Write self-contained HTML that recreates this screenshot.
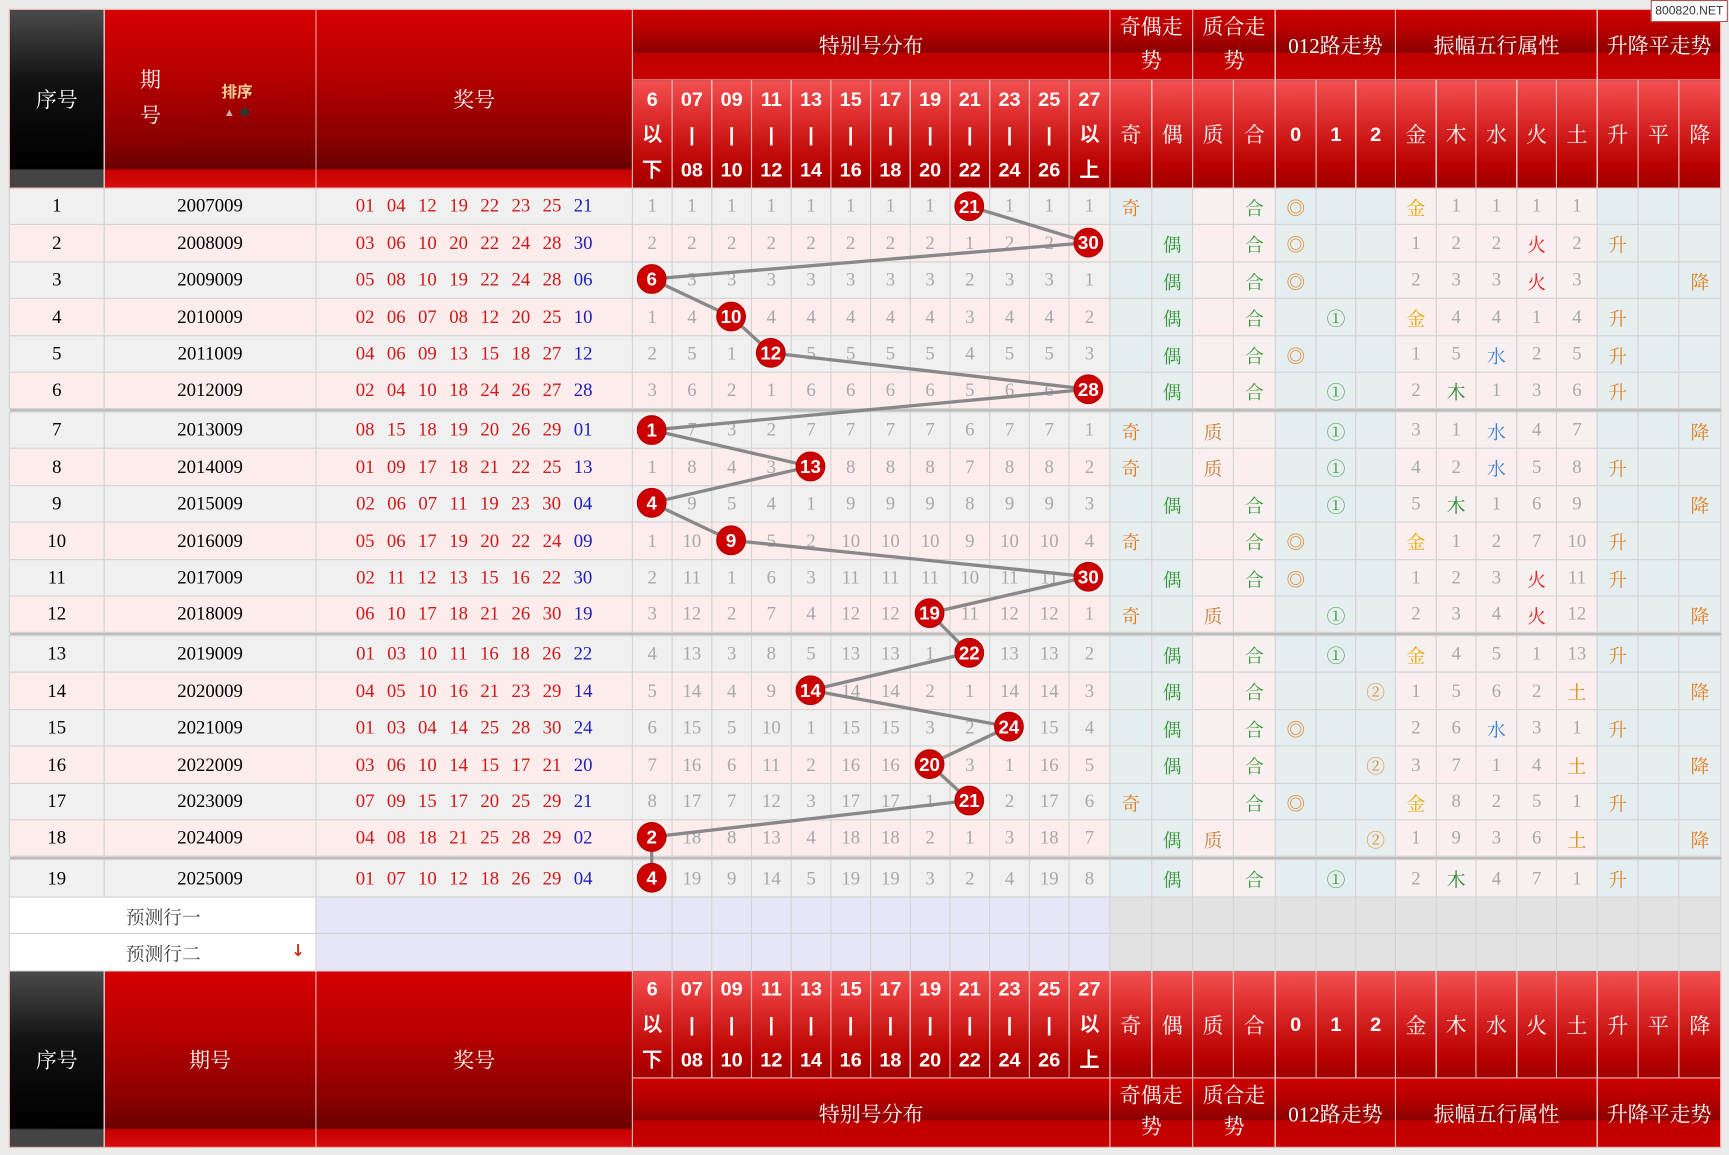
<!DOCTYPE html>
<html><head><meta charset="utf-8">
<style>
html,body{margin:0;padding:0;background:#ebebeb;overflow:hidden;width:1729px;height:1155px}
#c{position:absolute;left:0;top:0;width:1568px;height:1047px;transform:scale(1.10268);transform-origin:0 0}
table{position:absolute;left:8px;top:8px;width:1552px;border-collapse:collapse;table-layout:fixed;font-family:"Liberation Serif","Noto Serif CJK SC",serif;font-size:17px}
td{border:1px solid #d2d2d2;text-align:center;padding:0;overflow:hidden;white-space:nowrap}
.hd td{color:#fff;border-color:#e8b0b0;font-family:"Liberation Serif","Noto Serif CJK SC",serif;font-size:19px}
.rg{background:linear-gradient(#d60000 0%,#b80000 35%,#860000 75%,#6a0000 89%,#c80000 90%,#d80c0c 100%)}
.bk{background:linear-gradient(#4a4a4a 0%,#111 40%,#000 89%,#444 90%,#444 100%)}
.gt{background:linear-gradient(#cc0000 0%,#b50000 30%,#8a0000 60%,#c00000 61%,#c80000 100%)}
.sb{background:linear-gradient(#f25050 0%,#dd2a2a 35%,#b80000 80%,#a00000 100%);font-family:"Liberation Sans",sans-serif!important;font-weight:bold;line-height:32px;font-size:18px!important}
.sb2{background:linear-gradient(#f25050 0%,#dd2a2a 35%,#b80000 80%,#a00000 100%)}
tr.o td{background:#f0f0f0}
tr.e td{background:#fcecec}
tr.d td:nth-child(n+4):nth-child(-n+15){color:#a8a8a8}
tr.o td:nth-child(16),tr.o td:nth-child(17),tr.o td:nth-child(n+20):nth-child(-n+22),tr.o td:nth-child(n+28){background:#e4eef0}
tr.e td:nth-child(16),tr.e td:nth-child(17),tr.e td:nth-child(n+20):nth-child(-n+22),tr.e td:nth-child(n+28){background:#e6eef0}
tr.o td:nth-child(n+18):nth-child(-n+19),tr.o td:nth-child(n+23):nth-child(-n+27){background:#f6f0f0}
tr.e td:nth-child(n+18):nth-child(-n+19),tr.e td:nth-child(n+23):nth-child(-n+27){background:#faeeee}
tr.d td:nth-child(n+23):nth-child(-n+27){color:#a8a8a8}
tr.d td:nth-child(n+16){font-family:"Liberation Serif","Noto Serif CJK SC",serif}
.aw{word-spacing:7px}
.a{color:#d01818}.b{color:#2020b8}
.q{color:#e07a20!important}.ou{color:#3c9a3c!important}.z{color:#c88038!important}.h{color:#3c9a3c!important}
.r0{color:#e08a30!important}.r1{color:#3c9a3c!important}.r2{color:#e08a30!important}
.j{color:#e8a800!important}.m{color:#2f8a2f!important}.s{color:#3a80d0!important}.f{color:#e02020!important}.t{color:#d08a00!important}.u{color:#e08020!important}
tr.sep td{height:2px;background:#bdbdbd;border:0}
tr.p td{background:#e6e6f6}
tr.p td.w{background:#fff;text-align:left;padding-left:105px;color:#444}
tr.p td.g{background:#e2e2e2}
#wm{position:absolute;left:1497px;top:0;width:68px;height:18px;background:#fff;border:1px solid #a55;font:11px "Liberation Sans",sans-serif;line-height:18px;text-align:center;color:#333}
svg{position:absolute;left:0;top:0}
</style></head><body><div id="c">
<table>
<colgroup><col style="width:86px"><col style="width:192px"><col style="width:287px">
<col style="width:36px"><col style="width:36px"><col style="width:36px"><col style="width:36px"><col style="width:36px"><col style="width:36px"><col style="width:36px"><col style="width:36px"><col style="width:36px"><col style="width:36px"><col style="width:36px"><col style="width:37px">
<col style="width:38px"><col style="width:37px"><col style="width:37px"><col style="width:38px"><col style="width:37px"><col style="width:36px"><col style="width:36px"><col style="width:37px"><col style="width:36px"><col style="width:37px"><col style="width:36px"><col style="width:37px"><col style="width:37px"><col style="width:37px"><col style="width:38px"></colgroup>
<tr class="hd" style="height:64px"><td rowspan="2" class="bk">序号</td><td rowspan="2" class="rg" style="position:relative;text-align:left;padding-left:32px;line-height:32px">期<br>号<span style="position:absolute;left:106px;top:58px;font-size:14px;font-weight:bold;color:#f6d0a0;font-family:'Noto Sans CJK SC',sans-serif">排序</span><span style="position:absolute;left:108px;top:78px;font-size:10px;color:#caa">▲</span><span style="position:absolute;left:122px;top:78px;font-size:10px;color:#333">◆</span></td><td rowspan="2" class="rg">奖号</td><td colspan="12" class="gt">特别号分布</td><td colspan="2" class="gt" style="line-height:30px">奇偶走<br>势</td><td colspan="2" class="gt" style="line-height:30px">质合走<br>势</td><td colspan="3" class="gt">012路走势</td><td colspan="5" class="gt">振幅五行属性</td><td colspan="3" class="gt">升降平走势</td></tr>
<tr class="hd" style="height:98px"><td class="sb">6<br>以<br>下</td><td class="sb">07<br>|<br>08</td><td class="sb">09<br>|<br>10</td><td class="sb">11<br>|<br>12</td><td class="sb">13<br>|<br>14</td><td class="sb">15<br>|<br>16</td><td class="sb">17<br>|<br>18</td><td class="sb">19<br>|<br>20</td><td class="sb">21<br>|<br>22</td><td class="sb">23<br>|<br>24</td><td class="sb">25<br>|<br>26</td><td class="sb">27<br>以<br>上</td><td class="sb2">奇</td><td class="sb2">偶</td><td class="sb2">质</td><td class="sb2">合</td><td class="sb">0</td><td class="sb">1</td><td class="sb">2</td><td class="sb2">金</td><td class="sb2">木</td><td class="sb2">水</td><td class="sb2">火</td><td class="sb2">土</td><td class="sb2">升</td><td class="sb2">平</td><td class="sb2">降</td></tr>

<tr class="d o" style="height:33px"><td>1</td><td>2007009</td><td class="aw"><span class="a">01 04 12 19 22 23 25</span> <span class="b">21</span></td><td>1</td><td>1</td><td>1</td><td>1</td><td>1</td><td>1</td><td>1</td><td>1</td><td></td><td>1</td><td>1</td><td>1</td><td class="q">奇</td><td></td><td></td><td class="h">合</td><td class="r0">◎</td><td></td><td></td><td class="j">金</td><td>1</td><td>1</td><td>1</td><td>1</td><td></td><td></td><td></td></tr>
<tr class="d e" style="height:34px"><td>2</td><td>2008009</td><td class="aw"><span class="a">03 06 10 20 22 24 28</span> <span class="b">30</span></td><td>2</td><td>2</td><td>2</td><td>2</td><td>2</td><td>2</td><td>2</td><td>2</td><td>1</td><td>2</td><td>2</td><td></td><td></td><td class="ou">偶</td><td></td><td class="h">合</td><td class="r0">◎</td><td></td><td></td><td>1</td><td>2</td><td>2</td><td class="f">火</td><td>2</td><td class="u">升</td><td></td><td></td></tr>
<tr class="d o" style="height:33px"><td>3</td><td>2009009</td><td class="aw"><span class="a">05 08 10 19 22 24 28</span> <span class="b">06</span></td><td></td><td>3</td><td>3</td><td>3</td><td>3</td><td>3</td><td>3</td><td>3</td><td>2</td><td>3</td><td>3</td><td>1</td><td></td><td class="ou">偶</td><td></td><td class="h">合</td><td class="r0">◎</td><td></td><td></td><td>2</td><td>3</td><td>3</td><td class="f">火</td><td>3</td><td></td><td></td><td class="u">降</td></tr>
<tr class="d e" style="height:34px"><td>4</td><td>2010009</td><td class="aw"><span class="a">02 06 07 08 12 20 25</span> <span class="b">10</span></td><td>1</td><td>4</td><td></td><td>4</td><td>4</td><td>4</td><td>4</td><td>4</td><td>3</td><td>4</td><td>4</td><td>2</td><td></td><td class="ou">偶</td><td></td><td class="h">合</td><td></td><td class="r1">①</td><td></td><td class="j">金</td><td>4</td><td>4</td><td>1</td><td>4</td><td class="u">升</td><td></td><td></td></tr>
<tr class="d o" style="height:33px"><td>5</td><td>2011009</td><td class="aw"><span class="a">04 06 09 13 15 18 27</span> <span class="b">12</span></td><td>2</td><td>5</td><td>1</td><td></td><td>5</td><td>5</td><td>5</td><td>5</td><td>4</td><td>5</td><td>5</td><td>3</td><td></td><td class="ou">偶</td><td></td><td class="h">合</td><td class="r0">◎</td><td></td><td></td><td>1</td><td>5</td><td class="s">水</td><td>2</td><td>5</td><td class="u">升</td><td></td><td></td></tr>
<tr class="d e" style="height:33px"><td>6</td><td>2012009</td><td class="aw"><span class="a">02 04 10 18 24 26 27</span> <span class="b">28</span></td><td>3</td><td>6</td><td>2</td><td>1</td><td>6</td><td>6</td><td>6</td><td>6</td><td>5</td><td>6</td><td>6</td><td></td><td></td><td class="ou">偶</td><td></td><td class="h">合</td><td></td><td class="r1">①</td><td></td><td>2</td><td class="m">木</td><td>1</td><td>3</td><td>6</td><td class="u">升</td><td></td><td></td></tr>
<tr class="sep"><td colspan="30"></td></tr>
<tr class="d o" style="height:33px"><td>7</td><td>2013009</td><td class="aw"><span class="a">08 15 18 19 20 26 29</span> <span class="b">01</span></td><td></td><td>7</td><td>3</td><td>2</td><td>7</td><td>7</td><td>7</td><td>7</td><td>6</td><td>7</td><td>7</td><td>1</td><td class="q">奇</td><td></td><td class="z">质</td><td></td><td></td><td class="r1">①</td><td></td><td>3</td><td>1</td><td class="s">水</td><td>4</td><td>7</td><td></td><td></td><td class="u">降</td></tr>
<tr class="d e" style="height:34px"><td>8</td><td>2014009</td><td class="aw"><span class="a">01 09 17 18 21 22 25</span> <span class="b">13</span></td><td>1</td><td>8</td><td>4</td><td>3</td><td></td><td>8</td><td>8</td><td>8</td><td>7</td><td>8</td><td>8</td><td>2</td><td class="q">奇</td><td></td><td class="z">质</td><td></td><td></td><td class="r1">①</td><td></td><td>4</td><td>2</td><td class="s">水</td><td>5</td><td>8</td><td class="u">升</td><td></td><td></td></tr>
<tr class="d o" style="height:33px"><td>9</td><td>2015009</td><td class="aw"><span class="a">02 06 07 11 19 23 30</span> <span class="b">04</span></td><td></td><td>9</td><td>5</td><td>4</td><td>1</td><td>9</td><td>9</td><td>9</td><td>8</td><td>9</td><td>9</td><td>3</td><td></td><td class="ou">偶</td><td></td><td class="h">合</td><td></td><td class="r1">①</td><td></td><td>5</td><td class="m">木</td><td>1</td><td>6</td><td>9</td><td></td><td></td><td class="u">降</td></tr>
<tr class="d e" style="height:34px"><td>10</td><td>2016009</td><td class="aw"><span class="a">05 06 17 19 20 22 24</span> <span class="b">09</span></td><td>1</td><td>10</td><td></td><td>5</td><td>2</td><td>10</td><td>10</td><td>10</td><td>9</td><td>10</td><td>10</td><td>4</td><td class="q">奇</td><td></td><td></td><td class="h">合</td><td class="r0">◎</td><td></td><td></td><td class="j">金</td><td>1</td><td>2</td><td>7</td><td>10</td><td class="u">升</td><td></td><td></td></tr>
<tr class="d o" style="height:33px"><td>11</td><td>2017009</td><td class="aw"><span class="a">02 11 12 13 15 16 22</span> <span class="b">30</span></td><td>2</td><td>11</td><td>1</td><td>6</td><td>3</td><td>11</td><td>11</td><td>11</td><td>10</td><td>11</td><td>11</td><td></td><td></td><td class="ou">偶</td><td></td><td class="h">合</td><td class="r0">◎</td><td></td><td></td><td>1</td><td>2</td><td>3</td><td class="f">火</td><td>11</td><td class="u">升</td><td></td><td></td></tr>
<tr class="d e" style="height:33px"><td>12</td><td>2018009</td><td class="aw"><span class="a">06 10 17 18 21 26 30</span> <span class="b">19</span></td><td>3</td><td>12</td><td>2</td><td>7</td><td>4</td><td>12</td><td>12</td><td></td><td>11</td><td>12</td><td>12</td><td>1</td><td class="q">奇</td><td></td><td class="z">质</td><td></td><td></td><td class="r1">①</td><td></td><td>2</td><td>3</td><td>4</td><td class="f">火</td><td>12</td><td></td><td></td><td class="u">降</td></tr>
<tr class="sep"><td colspan="30"></td></tr>
<tr class="d o" style="height:33px"><td>13</td><td>2019009</td><td class="aw"><span class="a">01 03 10 11 16 18 26</span> <span class="b">22</span></td><td>4</td><td>13</td><td>3</td><td>8</td><td>5</td><td>13</td><td>13</td><td>1</td><td></td><td>13</td><td>13</td><td>2</td><td></td><td class="ou">偶</td><td></td><td class="h">合</td><td></td><td class="r1">①</td><td></td><td class="j">金</td><td>4</td><td>5</td><td>1</td><td>13</td><td class="u">升</td><td></td><td></td></tr>
<tr class="d e" style="height:34px"><td>14</td><td>2020009</td><td class="aw"><span class="a">04 05 10 16 21 23 29</span> <span class="b">14</span></td><td>5</td><td>14</td><td>4</td><td>9</td><td></td><td>14</td><td>14</td><td>2</td><td>1</td><td>14</td><td>14</td><td>3</td><td></td><td class="ou">偶</td><td></td><td class="h">合</td><td></td><td></td><td class="r2">②</td><td>1</td><td>5</td><td>6</td><td>2</td><td class="t">土</td><td></td><td></td><td class="u">降</td></tr>
<tr class="d o" style="height:33px"><td>15</td><td>2021009</td><td class="aw"><span class="a">01 03 04 14 25 28 30</span> <span class="b">24</span></td><td>6</td><td>15</td><td>5</td><td>10</td><td>1</td><td>15</td><td>15</td><td>3</td><td>2</td><td></td><td>15</td><td>4</td><td></td><td class="ou">偶</td><td></td><td class="h">合</td><td class="r0">◎</td><td></td><td></td><td>2</td><td>6</td><td class="s">水</td><td>3</td><td>1</td><td class="u">升</td><td></td><td></td></tr>
<tr class="d e" style="height:34px"><td>16</td><td>2022009</td><td class="aw"><span class="a">03 06 10 14 15 17 21</span> <span class="b">20</span></td><td>7</td><td>16</td><td>6</td><td>11</td><td>2</td><td>16</td><td>16</td><td></td><td>3</td><td>1</td><td>16</td><td>5</td><td></td><td class="ou">偶</td><td></td><td class="h">合</td><td></td><td></td><td class="r2">②</td><td>3</td><td>7</td><td>1</td><td>4</td><td class="t">土</td><td></td><td></td><td class="u">降</td></tr>
<tr class="d o" style="height:33px"><td>17</td><td>2023009</td><td class="aw"><span class="a">07 09 15 17 20 25 29</span> <span class="b">21</span></td><td>8</td><td>17</td><td>7</td><td>12</td><td>3</td><td>17</td><td>17</td><td>1</td><td></td><td>2</td><td>17</td><td>6</td><td class="q">奇</td><td></td><td></td><td class="h">合</td><td class="r0">◎</td><td></td><td></td><td class="j">金</td><td>8</td><td>2</td><td>5</td><td>1</td><td class="u">升</td><td></td><td></td></tr>
<tr class="d e" style="height:33px"><td>18</td><td>2024009</td><td class="aw"><span class="a">04 08 18 21 25 28 29</span> <span class="b">02</span></td><td></td><td>18</td><td>8</td><td>13</td><td>4</td><td>18</td><td>18</td><td>2</td><td>1</td><td>3</td><td>18</td><td>7</td><td></td><td class="ou">偶</td><td class="z">质</td><td></td><td></td><td></td><td class="r2">②</td><td>1</td><td>9</td><td>3</td><td>6</td><td class="t">土</td><td></td><td></td><td class="u">降</td></tr>
<tr class="sep"><td colspan="30"></td></tr>
<tr class="d o" style="height:34px"><td>19</td><td>2025009</td><td class="aw"><span class="a">01 07 10 12 18 26 29</span> <span class="b">04</span></td><td></td><td>19</td><td>9</td><td>14</td><td>5</td><td>19</td><td>19</td><td>3</td><td>2</td><td>4</td><td>19</td><td>8</td><td></td><td class="ou">偶</td><td></td><td class="h">合</td><td></td><td class="r1">①</td><td></td><td>2</td><td class="m">木</td><td>4</td><td>7</td><td>1</td><td class="u">升</td><td></td><td></td></tr>
<tr class="p" style="height:33px"><td colspan="2" class="w">预测行一</td><td></td><td></td><td></td><td></td><td></td><td></td><td></td><td></td><td></td><td></td><td></td><td></td><td></td><td class="g"></td><td class="g"></td><td class="g"></td><td class="g"></td><td class="g"></td><td class="g"></td><td class="g"></td><td class="g"></td><td class="g"></td><td class="g"></td><td class="g"></td><td class="g"></td><td class="g"></td><td class="g"></td><td class="g"></td></tr>
<tr class="p" style="height:34px"><td colspan="2" class="w" style="position:relative">预测行二<span style="position:absolute;left:255px;top:6px;color:#d03010;font-size:15px;font-weight:bold;font-family:'DejaVu Sans',sans-serif">↓</span></td><td></td><td></td><td></td><td></td><td></td><td></td><td></td><td></td><td></td><td></td><td></td><td></td><td></td><td class="g"></td><td class="g"></td><td class="g"></td><td class="g"></td><td class="g"></td><td class="g"></td><td class="g"></td><td class="g"></td><td class="g"></td><td class="g"></td><td class="g"></td><td class="g"></td><td class="g"></td><td class="g"></td><td class="g"></td></tr>

<tr class="hd" style="height:97px"><td rowspan="2" class="bk">序号</td><td rowspan="2" class="rg">期号</td><td rowspan="2" class="rg">奖号</td><td class="sb">6<br>以<br>下</td><td class="sb">07<br>|<br>08</td><td class="sb">09<br>|<br>10</td><td class="sb">11<br>|<br>12</td><td class="sb">13<br>|<br>14</td><td class="sb">15<br>|<br>16</td><td class="sb">17<br>|<br>18</td><td class="sb">19<br>|<br>20</td><td class="sb">21<br>|<br>22</td><td class="sb">23<br>|<br>24</td><td class="sb">25<br>|<br>26</td><td class="sb">27<br>以<br>上</td><td class="sb2">奇</td><td class="sb2">偶</td><td class="sb2">质</td><td class="sb2">合</td><td class="sb">0</td><td class="sb">1</td><td class="sb">2</td><td class="sb2">金</td><td class="sb2">木</td><td class="sb2">水</td><td class="sb2">火</td><td class="sb2">土</td><td class="sb2">升</td><td class="sb2">平</td><td class="sb2">降</td></tr>
<tr class="hd" style="height:63px"><td colspan="12" class="gt">特别号分布</td><td colspan="2" class="gt" style="line-height:28px">奇偶走<br>势</td><td colspan="2" class="gt" style="line-height:28px">质合走<br>势</td><td colspan="3" class="gt">012路走势</td><td colspan="5" class="gt">振幅五行属性</td><td colspan="3" class="gt">升降平走势</td></tr>
</table>

<svg width="1568" height="1047" viewBox="0 0 1568 1047">
<polyline fill="none" stroke="#888" stroke-width="3" points="879,187 987,220 591,253 663,287 699,320 987,353 591,390 735,423 591,456 663,490 987,523 843,556 879,592 735,626 915,659 843,693 879,726 591,759 591,796"/>
<g fill="#cc0000" stroke="#b00000" stroke-width="1">
<circle cx="879" cy="187" r="13"/><circle cx="987" cy="220" r="13"/><circle cx="591" cy="253" r="13"/><circle cx="663" cy="287" r="13"/><circle cx="699" cy="320" r="13"/><circle cx="987" cy="353" r="13"/><circle cx="591" cy="390" r="13"/><circle cx="735" cy="423" r="13"/><circle cx="591" cy="456" r="13"/><circle cx="663" cy="490" r="13"/><circle cx="987" cy="523" r="13"/><circle cx="843" cy="556" r="13"/><circle cx="879" cy="592" r="13"/><circle cx="735" cy="626" r="13"/><circle cx="915" cy="659" r="13"/><circle cx="843" cy="693" r="13"/><circle cx="879" cy="726" r="13"/><circle cx="591" cy="759" r="13"/><circle cx="591" cy="796" r="13"/>
</g>
<g fill="#fff" font-family="Liberation Sans, sans-serif" font-weight="bold" font-size="17" text-anchor="middle">
<text x="879" y="193">21</text><text x="987" y="226">30</text><text x="591" y="259">6</text><text x="663" y="293">10</text><text x="699" y="326">12</text><text x="987" y="359">28</text><text x="591" y="396">1</text><text x="735" y="429">13</text><text x="591" y="462">4</text><text x="663" y="496">9</text><text x="987" y="529">30</text><text x="843" y="562">19</text><text x="879" y="598">22</text><text x="735" y="632">14</text><text x="915" y="665">24</text><text x="843" y="699">20</text><text x="879" y="732">21</text><text x="591" y="765">2</text><text x="591" y="802">4</text>
</g>
</svg>
<div id="wm">800820.NET</div>
</div></body></html>
